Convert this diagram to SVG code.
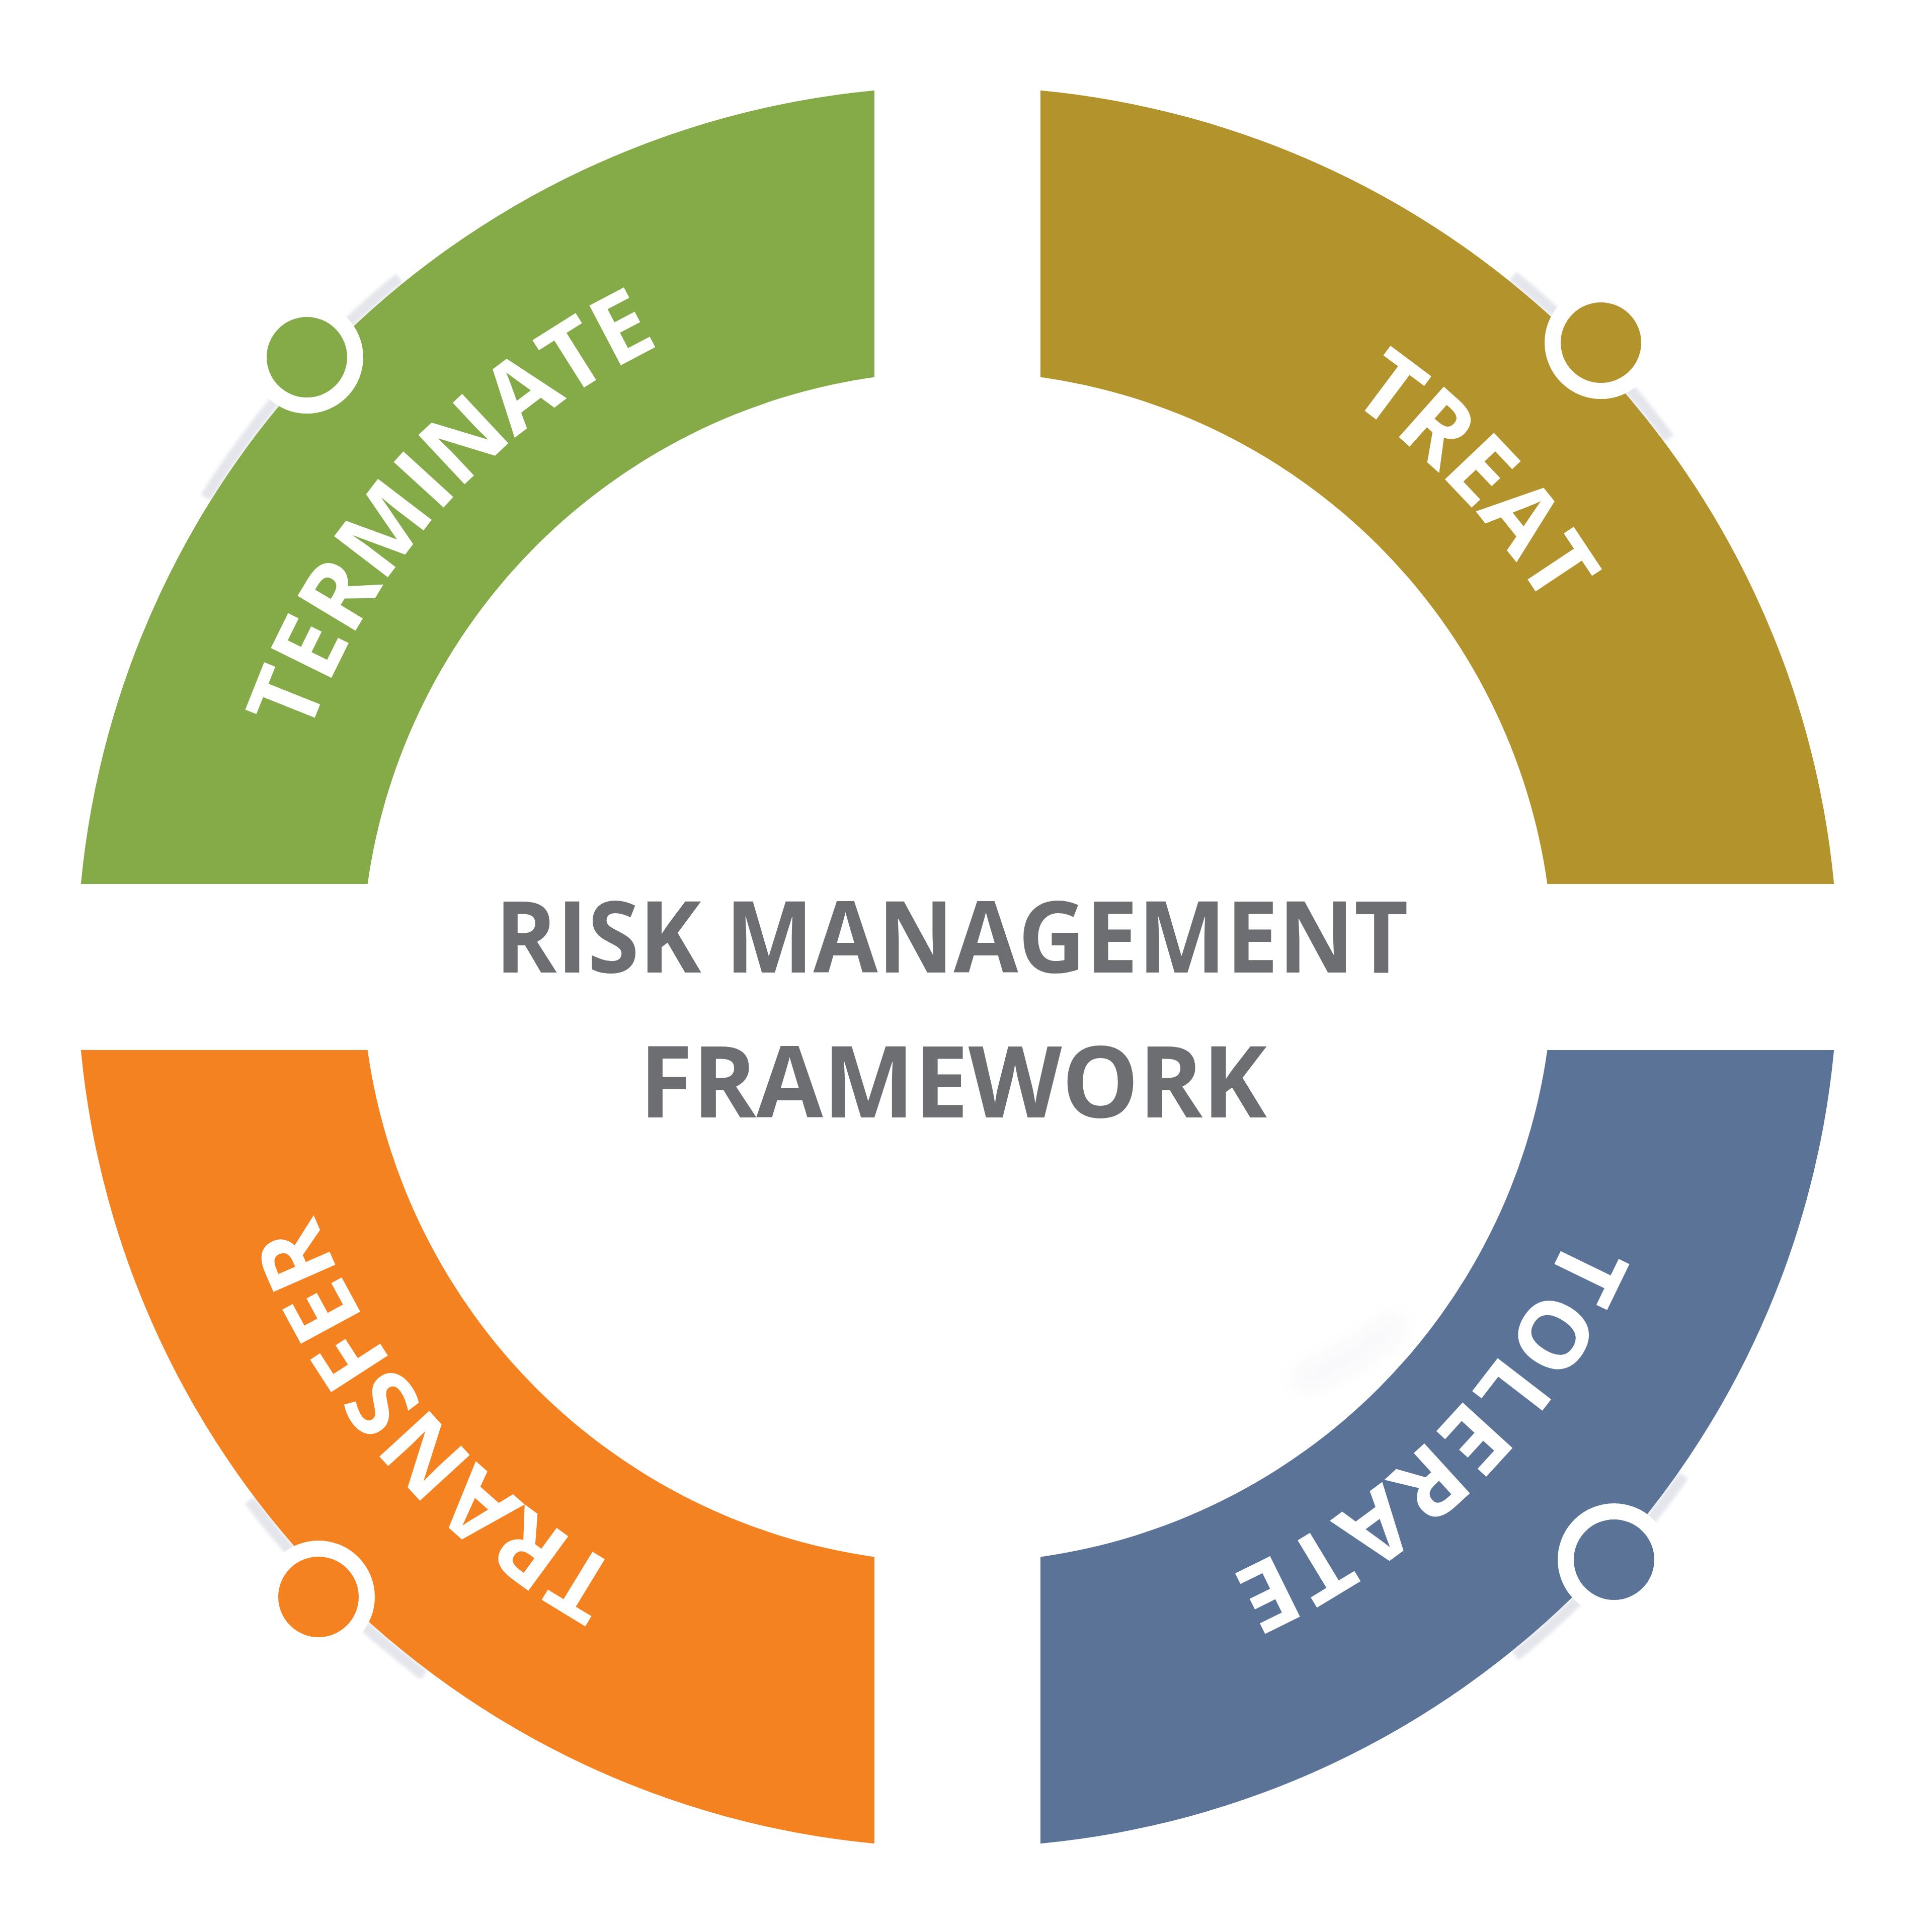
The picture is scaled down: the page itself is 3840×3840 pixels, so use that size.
<svg xmlns="http://www.w3.org/2000/svg" width="3840" height="3840" viewBox="0 0 3840 3840">
  <style>
    .label { font-family: "Open Sans", Lato, "Liberation Sans", sans-serif; font-weight: 700; font-size: 188px; fill: #FFFFFF; }
    .title { font-family: "Open Sans", Lato, "Liberation Sans", sans-serif; font-weight: 700; font-size: 197px; fill: #6D6E71; }
    .ring { stroke: #FFFFFF; stroke-width: 32; }
    .shadow { fill: none; stroke: #E4E6EC; stroke-width: 22; stroke-linecap: butt; filter: url(#soft); }
  </style>
  <defs>
    <filter id="soft" x="-20%" y="-20%" width="140%" height="140%">
      <feGaussianBlur stdDeviation="3"/>
    </filter>
    <filter id="blob" x="-50%" y="-50%" width="200%" height="200%">
      <feGaussianBlur stdDeviation="22"/>
    </filter>
    <path id="arcTerminate" d="M 534.9 1993.7 A 1370 1370 0 0 1 1831.3 553.9"/>
    <path id="arcTreat" d="M 1941.3 552.5 A 1370 1370 0 0 1 3272.5 1960.3"/>
    <path id="arcTolerate" d="M 3228 1917.4 A 1325 1325 0 0 1 1907.6 3247"/>
    <path id="arcTransfer" d="M 1807.4 3288.7 A 1370 1370 0 0 1 536.3 1826.4"/>
  </defs>
  <rect x="0" y="0" width="3840" height="3840" fill="#FFFFFF"/>

  <g id="shadows">
    <path class="shadow" d="M 408.7 988.3 A 1758 1758 0 0 1 794.1 552.7"/>
    <path class="shadow" d="M 3007.1 548.8 A 1758 1758 0 0 1 3317.6 871.5"/>
    <path class="shadow" d="M 842.6 3329.2 A 1758 1758 0 0 1 495.8 2982.4"/>
    <path class="shadow" d="M 3346.3 2932.6 A 1758 1758 0 0 1 3011.9 3291.3"/>
    <path d="M 2590 2740 Q 2700 2700 2770 2635" fill="none" stroke="#F1F2F5" stroke-width="40" stroke-linecap="round" filter="url(#blob)" opacity="0.7"/>
  </g>

  <g id="terminate">
    <path d="M 1738 179.8 L 1738 749.6 A 1184 1184 0 0 0 730.6 1757 L 160.8 1757 A 1750 1750 0 0 1 1738 179.8 Z" fill="#84AB48"/>
    <circle class="ring" cx="610" cy="710" r="96" fill="#84AB48"/>
    <text class="label"><textPath href="#arcTerminate" startOffset="50%" text-anchor="middle">TERMINATE</textPath></text>
  </g>

  <g id="treat">
    <path d="M 2068 179.8 A 1750 1750 0 0 1 3645.2 1757 L 3075.4 1757 A 1184 1184 0 0 0 2068 749.6 Z" fill="#B3932B"/>
    <circle class="ring" cx="3182" cy="681" r="96" fill="#B3932B"/>
    <text class="label"><textPath href="#arcTreat" startOffset="50%" text-anchor="middle">TREAT</textPath></text>
  </g>

  <g id="tolerate">
    <path d="M 2068 3094.4 A 1184 1184 0 0 0 3075.4 2087 L 3645.2 2087 A 1750 1750 0 0 1 2068 3664.2 Z" fill="#5A7397"/>
    <circle class="ring" cx="3208" cy="3100" r="96" fill="#5A7397"/>
    <text class="label" letter-spacing="6"><textPath href="#arcTolerate" startOffset="50%" text-anchor="middle">TOLERATE</textPath></text>
  </g>

  <g id="transfer">
    <path d="M 160.8 2087 L 730.6 2087 A 1184 1184 0 0 0 1738 3094.4 L 1738 3664.2 A 1750 1750 0 0 1 160.8 2087 Z" fill="#F48220"/>
    <circle class="ring" cx="633" cy="3174" r="96" fill="#F48220"/>
    <text class="label"><textPath href="#arcTransfer" startOffset="50%" text-anchor="middle">TRANSFER</textPath></text>
  </g>

  <g id="center-title">
    <text class="title" x="1891.5" y="1933" text-anchor="middle" textLength="1815" lengthAdjust="spacingAndGlyphs">RISK MANAGEMENT</text>
    <text class="title" x="1894.5" y="2221" text-anchor="middle" textLength="1247" lengthAdjust="spacingAndGlyphs">FRAMEWORK</text>
  </g>

  <g id="connectors"></g>
</svg>
